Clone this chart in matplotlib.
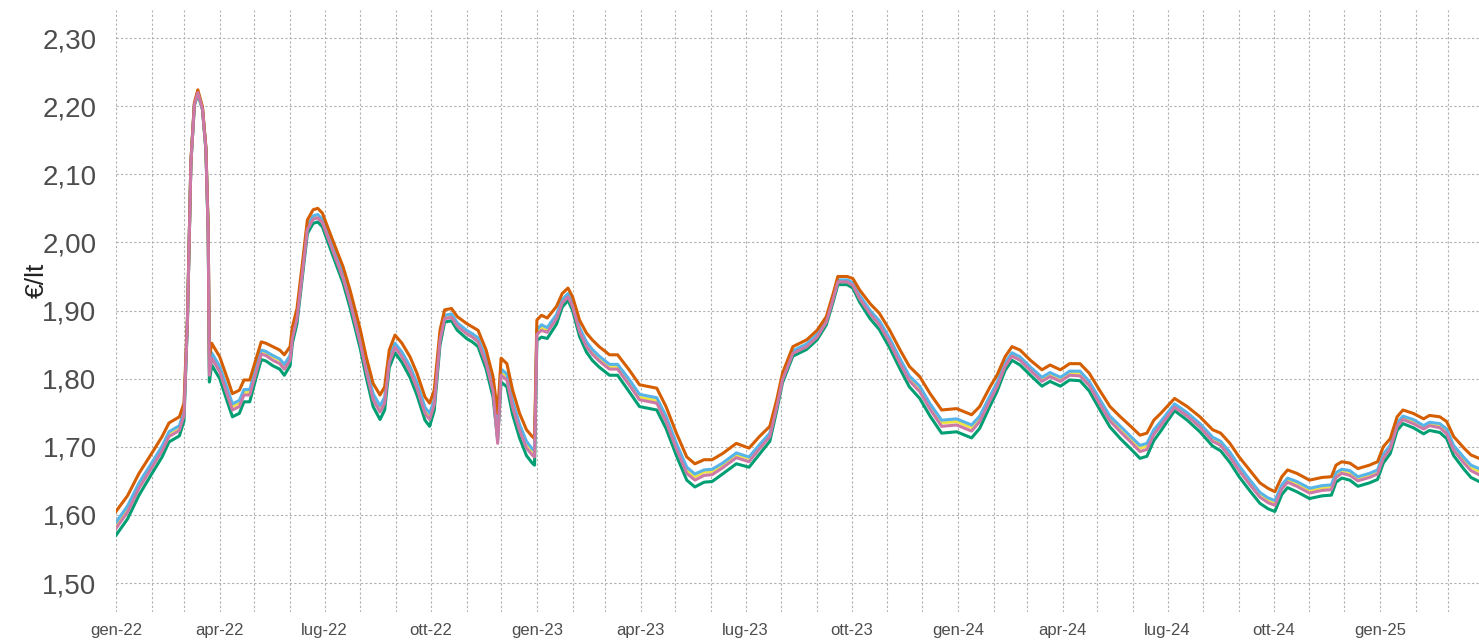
import matplotlib
matplotlib.use("Agg")
import matplotlib.pyplot as plt
import matplotlib.dates as mdates
import numpy as np
import pandas as pd

plt.rcParams['font.family'] = ['Liberation Sans', 'DejaVu Sans']

dates = [
    "2022-01-01", "2022-01-11", "2022-01-21", "2022-02-02", "2022-02-10", "2022-02-16", "2022-02-25",
    "2022-03-01", "2022-03-04", "2022-03-07", "2022-03-10", "2022-03-13", "2022-03-17", "2022-03-20",
    "2022-03-22", "2022-03-23", "2022-03-25", "2022-04-01", "2022-04-07", "2022-04-12", "2022-04-18",
    "2022-04-22", "2022-04-27", "2022-05-03", "2022-05-07", "2022-05-11", "2022-05-17", "2022-05-23",
    "2022-05-27", "2022-06-01", "2022-06-03", "2022-06-07", "2022-06-12", "2022-06-16", "2022-06-21",
    "2022-06-25", "2022-06-29", "2022-07-08", "2022-07-17", "2022-07-23", "2022-08-01", "2022-08-06",
    "2022-08-12", "2022-08-18", "2022-08-22", "2022-08-26", "2022-08-31", "2022-09-06", "2022-09-13",
    "2022-09-19", "2022-09-26", "2022-09-30", "2022-10-04", "2022-10-09", "2022-10-13", "2022-10-19",
    "2022-10-24", "2022-11-01", "2022-11-06", "2022-11-11", "2022-11-18", "2022-11-24", "2022-11-28",
    "2022-12-01", "2022-12-06", "2022-12-11", "2022-12-17", "2022-12-23", "2022-12-28", "2022-12-30",
    "2023-01-01", "2023-01-05", "2023-01-10", "2023-01-18", "2023-01-23", "2023-01-28", "2023-02-01",
    "2023-02-07", "2023-02-13", "2023-02-18", "2023-02-24", "2023-03-05", "2023-03-12", "2023-03-22",
    "2023-03-31", "2023-04-15", "2023-04-23", "2023-05-02", "2023-05-11", "2023-05-18", "2023-05-26",
    "2023-06-02", "2023-06-11", "2023-06-23", "2023-07-04", "2023-07-13", "2023-07-22", "2023-07-28",
    "2023-08-02", "2023-08-11", "2023-08-23", "2023-09-01", "2023-09-09", "2023-09-15", "2023-09-19",
    "2023-09-27", "2023-10-02", "2023-10-08", "2023-10-17", "2023-10-25", "2023-11-03", "2023-11-12",
    "2023-11-20", "2023-11-29", "2023-12-08", "2023-12-18", "2023-12-31", "2024-01-13", "2024-01-20",
    "2024-01-29", "2024-02-04", "2024-02-11", "2024-02-17", "2024-02-24", "2024-03-04", "2024-03-14",
    "2024-03-21", "2024-03-30", "2024-04-07", "2024-04-16", "2024-04-24", "2024-05-03", "2024-05-12",
    "2024-05-21", "2024-05-30", "2024-06-07", "2024-06-13", "2024-06-19", "2024-06-25", "2024-07-07",
    "2024-07-18", "2024-07-29", "2024-08-09", "2024-08-16", "2024-08-24", "2024-09-01", "2024-09-10",
    "2024-09-19", "2024-09-26", "2024-10-02", "2024-10-08", "2024-10-13", "2024-10-21", "2024-11-01",
    "2024-11-12", "2024-11-20", "2024-11-24", "2024-11-29", "2024-12-06", "2024-12-13", "2024-12-23",
    "2024-12-30", "2025-01-04", "2025-01-10", "2025-01-16", "2025-01-21", "2025-01-30", "2025-02-08",
    "2025-02-13", "2025-02-22", "2025-02-28", "2025-03-06", "2025-03-15", "2025-03-21", "2025-03-28",
]

orange = [
    1.605, 1.628, 1.661, 1.693, 1.715, 1.735, 1.744, 1.764, 1.890, 2.120, 2.205, 2.224, 2.199, 2.140,
    2.020, 1.830, 1.852, 1.832, 1.803, 1.778, 1.783, 1.798, 1.798, 1.832, 1.854, 1.852, 1.847, 1.842,
    1.835, 1.847, 1.876, 1.903, 1.974, 2.033, 2.048, 2.050, 2.043, 2.003, 1.964, 1.930, 1.871, 1.832,
    1.793, 1.776, 1.788, 1.842, 1.864, 1.852, 1.832, 1.808, 1.773, 1.764, 1.783, 1.871, 1.901, 1.903,
    1.891, 1.881, 1.876, 1.871, 1.842, 1.803, 1.749, 1.830, 1.822, 1.783, 1.749, 1.725, 1.715, 1.712,
    1.886, 1.893, 1.889, 1.906, 1.925, 1.933, 1.920, 1.886, 1.867, 1.857, 1.847, 1.835, 1.835, 1.813,
    1.791, 1.786, 1.759, 1.720, 1.685, 1.675, 1.681, 1.681, 1.690, 1.705, 1.698, 1.715, 1.730, 1.769,
    1.808, 1.847, 1.857, 1.871, 1.891, 1.925, 1.950, 1.950, 1.947, 1.930, 1.910, 1.896, 1.871, 1.842,
    1.818, 1.803, 1.778, 1.754, 1.756, 1.747, 1.759, 1.788, 1.805, 1.832, 1.847, 1.842, 1.827, 1.813,
    1.820, 1.813, 1.822, 1.822, 1.808, 1.783, 1.759, 1.744, 1.730, 1.717, 1.720, 1.739, 1.749, 1.771,
    1.759, 1.744, 1.725, 1.720, 1.705, 1.685, 1.666, 1.647, 1.639, 1.634, 1.656, 1.666, 1.661, 1.651,
    1.655, 1.656, 1.673, 1.678, 1.676, 1.668, 1.673, 1.678, 1.700, 1.712, 1.744, 1.754, 1.749, 1.741,
    1.746, 1.744, 1.737, 1.715, 1.698, 1.688, 1.683,
]

sky = [
    1.589, 1.613, 1.647, 1.679, 1.701, 1.722, 1.731, 1.752, 1.887, 2.118, 2.203, 2.221, 2.197, 2.138,
    2.016, 1.814, 1.838, 1.818, 1.788, 1.763, 1.768, 1.784, 1.784, 1.819, 1.842, 1.840, 1.834, 1.829,
    1.821, 1.834, 1.865, 1.893, 1.965, 2.024, 2.039, 2.041, 2.034, 1.993, 1.953, 1.918, 1.858, 1.818,
    1.778, 1.760, 1.773, 1.830, 1.852, 1.839, 1.818, 1.794, 1.758, 1.749, 1.769, 1.861, 1.893, 1.895,
    1.882, 1.871, 1.866, 1.860, 1.829, 1.789, 1.731, 1.814, 1.807, 1.767, 1.733, 1.708, 1.697, 1.694,
    1.872, 1.879, 1.875, 1.894, 1.916, 1.925, 1.911, 1.875, 1.854, 1.843, 1.833, 1.821, 1.821, 1.799,
    1.777, 1.772, 1.745, 1.705, 1.670, 1.660, 1.666, 1.667, 1.676, 1.691, 1.685, 1.703, 1.720, 1.762,
    1.802, 1.841, 1.851, 1.865, 1.886, 1.920, 1.945, 1.945, 1.941, 1.922, 1.900, 1.885, 1.859, 1.829,
    1.804, 1.789, 1.763, 1.739, 1.741, 1.732, 1.745, 1.775, 1.794, 1.823, 1.838, 1.832, 1.817, 1.802,
    1.809, 1.802, 1.811, 1.811, 1.796, 1.770, 1.745, 1.730, 1.715, 1.702, 1.705, 1.725, 1.737, 1.763,
    1.750, 1.734, 1.714, 1.708, 1.692, 1.672, 1.652, 1.633, 1.625, 1.621, 1.644, 1.654, 1.649, 1.639,
    1.643, 1.644, 1.662, 1.667, 1.665, 1.656, 1.661, 1.666, 1.689, 1.702, 1.735, 1.745, 1.740, 1.731,
    1.736, 1.734, 1.726, 1.702, 1.684, 1.673, 1.668,
]

yellow = [
    1.586, 1.609, 1.643, 1.676, 1.698, 1.720, 1.729, 1.750, 1.887, 2.118, 2.203, 2.221, 2.197, 2.138,
    2.016, 1.811, 1.834, 1.814, 1.784, 1.759, 1.764, 1.780, 1.780, 1.817, 1.840, 1.838, 1.832, 1.827,
    1.818, 1.832, 1.863, 1.891, 1.963, 2.022, 2.037, 2.039, 2.032, 1.991, 1.951, 1.916, 1.856, 1.815,
    1.774, 1.756, 1.769, 1.828, 1.850, 1.837, 1.815, 1.790, 1.754, 1.745, 1.766, 1.859, 1.891, 1.893,
    1.880, 1.869, 1.864, 1.858, 1.827, 1.786, 1.728, 1.811, 1.803, 1.763, 1.729, 1.704, 1.694, 1.691,
    1.869, 1.875, 1.872, 1.892, 1.914, 1.923, 1.909, 1.873, 1.852, 1.840, 1.830, 1.818, 1.818, 1.795,
    1.773, 1.768, 1.741, 1.702, 1.666, 1.656, 1.663, 1.663, 1.673, 1.688, 1.683, 1.701, 1.718, 1.760,
    1.800, 1.839, 1.849, 1.863, 1.884, 1.918, 1.943, 1.943, 1.939, 1.920, 1.898, 1.883, 1.857, 1.827,
    1.801, 1.785, 1.760, 1.735, 1.737, 1.728, 1.741, 1.773, 1.792, 1.821, 1.836, 1.830, 1.815, 1.800,
    1.807, 1.800, 1.809, 1.808, 1.794, 1.768, 1.742, 1.726, 1.712, 1.698, 1.701, 1.722, 1.735, 1.761,
    1.748, 1.732, 1.712, 1.706, 1.690, 1.669, 1.649, 1.630, 1.622, 1.618, 1.642, 1.652, 1.646, 1.636,
    1.640, 1.641, 1.659, 1.665, 1.662, 1.654, 1.659, 1.664, 1.687, 1.700, 1.733, 1.743, 1.737, 1.729,
    1.734, 1.731, 1.723, 1.700, 1.681, 1.670, 1.664,
]

pink = [
    1.580, 1.604, 1.639, 1.672, 1.694, 1.715, 1.724, 1.746, 1.886, 2.117, 2.202, 2.220, 2.196, 2.137,
    2.014, 1.805, 1.830, 1.810, 1.779, 1.754, 1.759, 1.776, 1.776, 1.812, 1.836, 1.834, 1.827, 1.822,
    1.814, 1.827, 1.859, 1.888, 1.960, 2.019, 2.034, 2.036, 2.029, 1.988, 1.947, 1.912, 1.851, 1.811,
    1.769, 1.751, 1.764, 1.824, 1.846, 1.832, 1.811, 1.786, 1.749, 1.740, 1.762, 1.856, 1.888, 1.890,
    1.877, 1.866, 1.861, 1.854, 1.822, 1.782, 1.705, 1.805, 1.798, 1.758, 1.724, 1.698, 1.688, 1.685,
    1.865, 1.871, 1.868, 1.888, 1.911, 1.920, 1.906, 1.869, 1.847, 1.836, 1.826, 1.814, 1.814, 1.791,
    1.769, 1.764, 1.737, 1.697, 1.661, 1.651, 1.658, 1.659, 1.669, 1.684, 1.678, 1.697, 1.715, 1.758,
    1.798, 1.837, 1.847, 1.861, 1.883, 1.917, 1.942, 1.942, 1.937, 1.917, 1.895, 1.879, 1.853, 1.822,
    1.797, 1.781, 1.755, 1.730, 1.732, 1.723, 1.737, 1.768, 1.788, 1.818, 1.833, 1.827, 1.812, 1.796,
    1.803, 1.796, 1.805, 1.804, 1.790, 1.763, 1.738, 1.722, 1.707, 1.693, 1.696, 1.718, 1.731, 1.758,
    1.745, 1.729, 1.708, 1.702, 1.685, 1.665, 1.645, 1.626, 1.618, 1.614, 1.638, 1.648, 1.642, 1.632,
    1.636, 1.637, 1.655, 1.661, 1.658, 1.650, 1.655, 1.660, 1.683, 1.697, 1.730, 1.740, 1.734, 1.726,
    1.731, 1.728, 1.719, 1.695, 1.676, 1.665, 1.659,
]

green = [
    1.570, 1.594, 1.629, 1.663, 1.685, 1.707, 1.716, 1.738, 1.884, 2.116, 2.201, 2.218, 2.195, 2.136,
    2.012, 1.795, 1.820, 1.800, 1.769, 1.744, 1.749, 1.766, 1.766, 1.804, 1.828, 1.826, 1.819, 1.814,
    1.805, 1.819, 1.852, 1.881, 1.954, 2.013, 2.028, 2.030, 2.023, 1.981, 1.940, 1.904, 1.843, 1.802,
    1.759, 1.740, 1.754, 1.816, 1.838, 1.824, 1.802, 1.776, 1.739, 1.730, 1.753, 1.849, 1.883, 1.885,
    1.871, 1.859, 1.854, 1.847, 1.814, 1.773, 1.710, 1.795, 1.788, 1.747, 1.713, 1.687, 1.676, 1.673,
    1.856, 1.861, 1.859, 1.880, 1.905, 1.915, 1.900, 1.862, 1.839, 1.827, 1.817, 1.805, 1.805, 1.781,
    1.759, 1.754, 1.727, 1.687, 1.651, 1.641, 1.648, 1.649, 1.660, 1.675, 1.670, 1.689, 1.708, 1.753,
    1.794, 1.833, 1.843, 1.857, 1.879, 1.913, 1.938, 1.938, 1.933, 1.912, 1.888, 1.872, 1.845, 1.814,
    1.788, 1.771, 1.745, 1.720, 1.722, 1.713, 1.727, 1.760, 1.781, 1.812, 1.827, 1.820, 1.805, 1.789,
    1.796, 1.789, 1.798, 1.797, 1.782, 1.755, 1.729, 1.712, 1.697, 1.683, 1.686, 1.709, 1.723, 1.753,
    1.739, 1.722, 1.701, 1.694, 1.677, 1.656, 1.636, 1.617, 1.609, 1.605, 1.630, 1.640, 1.634, 1.624,
    1.628, 1.629, 1.648, 1.654, 1.651, 1.642, 1.647, 1.652, 1.676, 1.690, 1.724, 1.734, 1.728, 1.719,
    1.724, 1.721, 1.712, 1.687, 1.667, 1.655, 1.649,
]

tick_dates = ["2022-01-01", "2022-04-01", "2022-07-01", "2022-10-01", "2023-01-01", "2023-04-01",
              "2023-07-01", "2023-10-01", "2024-01-01", "2024-04-01", "2024-07-01", "2024-10-01",
              "2025-01-01"]
tick_labels = ["gen-22", "apr-22", "lug-22", "ott-22", "gen-23", "apr-23", "lug-23", "ott-23",
               "gen-24", "apr-24", "lug-24", "ott-24", "gen-25"]
y_ticks = [1.5, 1.6, 1.7, 1.8, 1.9, 2.0, 2.1, 2.2, 2.3]

x = pd.to_datetime(dates)

fig = plt.figure(figsize=(14.79, 6.41), dpi=100)
ax = fig.add_axes([0.0784, 0.0452, 0.9216, 0.939])

lw = 2.2
ax.plot(x, yellow, color="#F0E442", lw=lw)
ax.plot(x, green, color="#009E73", lw=lw)
ax.plot(x, sky, color="#56B4E9", lw=lw)
ax.plot(x, orange, color="#D55E00", lw=lw)
ax.plot(x, pink, color="#CC79A7", lw=lw)

ax.set_xlim(pd.Timestamp("2022-01-01"), pd.Timestamp("2025-03-28"))
ax.set_ylim(1.4574, 2.341)

ax.set_xticks(pd.to_datetime(tick_dates))
ax.set_xticklabels(tick_labels, fontsize=12, color="#4d4d4d")
ax.xaxis.set_minor_locator(mdates.MonthLocator())
ax.set_yticks(y_ticks)
ax.set_yticklabels([f"{v:.2f}".replace(".", ",") for v in y_ticks], fontsize=20, color="#4d4d4d")
ax.tick_params(axis="both", which="both", length=0)
ax.tick_params(axis="y", pad=14)
ax.tick_params(axis="x", pad=8)

ax.grid(True, axis="x", which="both", color="#b0b0b0", linestyle=(0, (2, 2)), linewidth=0.8)
ax.grid(True, axis="y", which="major", color="#b0b0b0", linestyle=(0, (2, 2)), linewidth=0.8)
ax.set_axisbelow(True)
for s in ax.spines.values():
    s.set_visible(False)

ax.set_ylabel("€/lt", fontsize=19, color="#222222")
ax.yaxis.set_label_coords(-0.049, 0.551)

fig.savefig("out.png", dpi=100)
